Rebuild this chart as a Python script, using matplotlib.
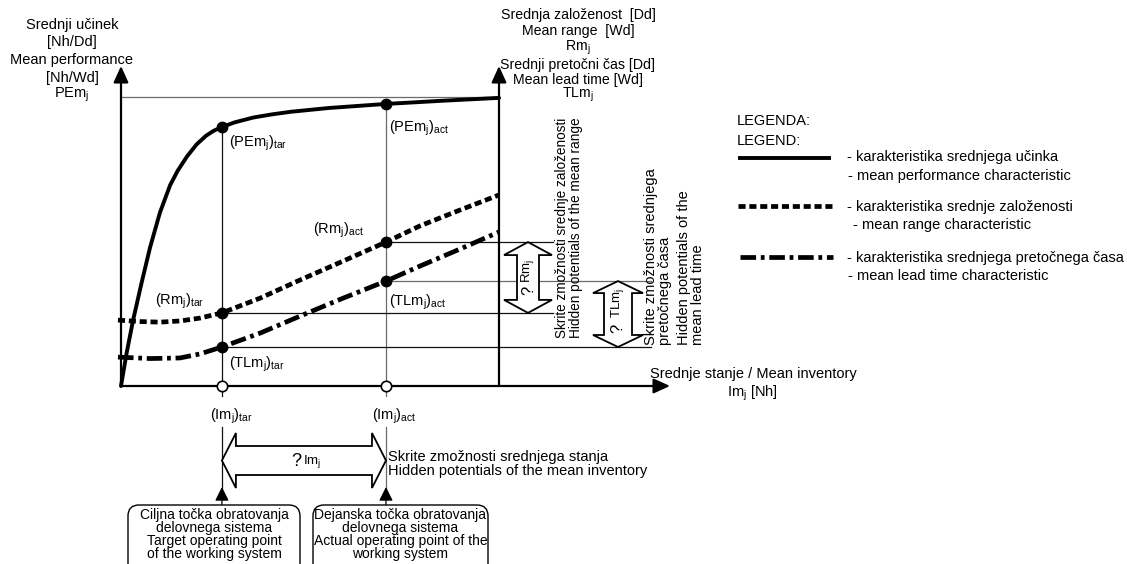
import matplotlib
matplotlib.use("Agg")
import matplotlib.pyplot as plt
from matplotlib.patches import Polygon, FancyBboxPatch

plt.rcParams['font.family'] = ['Liberation Sans', 'DejaVu Sans']
plt.rcParams['mathtext.fontset'] = 'custom'
plt.rcParams['mathtext.rm'] = 'Liberation Sans'
plt.rcParams['mathtext.it'] = 'Liberation Sans'
plt.rcParams['mathtext.bf'] = 'Liberation Sans:bold'

# characteristic curves (inventory 0..100, value 0..100)
inv_pe = [0, 1.5, 3.2, 5.5, 7.7, 10.3, 13, 15, 17.5, 20, 22.5, 24.5, 26.7, 30, 35, 40, 45,
          55, 70.1, 85, 100]
pe = [0, 11.5, 22.8, 36, 48, 60, 69.5, 74.5, 79.5, 83.6, 86.6, 88.3, 89.6, 91.2, 92.9, 94.0,
      94.9, 96.2, 97.6, 98.7, 99.7]

inv_rm = [-0.8, 5, 10.3, 15.6, 20.9, 26.7, 36.8, 47.4, 58.2, 70.1, 79.1, 89.7, 100]
rm = [22.8, 22.3, 22.1, 22.5, 23.5, 25.3, 30.4, 36.7, 42.9, 49.8, 55.4, 60.9, 66.1]

inv_tl = [-0.8, 7.7, 15.6, 20.9, 26.7, 36.8, 47.4, 58.2, 70.1, 79.1, 89.7, 100]
tl = [10.0, 9.5, 9.7, 11.1, 13.5, 18.3, 24.2, 30.1, 36.3, 41.5, 47.4, 53.3]

# operating points
im_tar, im_act = 26.7, 70.1
pe_tar, pe_act = 89.6, 97.6
rm_tar, rm_act = 25.3, 49.8
tl_tar, tl_act = 13.5, 36.3
pe_max = 100
inv_max = 100

# page layout: pixels per data unit and origin position
W, H = 1127, 564
SX, SY = 3.78, 2.89
X0, Y0 = 121, 386


def ix(p):
    return (p - X0) / SX


def vy(p):
    return (Y0 - p) / SY


fig = plt.figure(figsize=(W / 100, H / 100), dpi=100)
ax = fig.add_axes([0, 0, 1, 1])
ax.set_xlim(ix(0), ix(W))
ax.set_ylim(vy(H), vy(0))
ax.axis('off')

BLK = '#111111'
GRY = '#6a6a6a'

# axes with arrows
arr = dict(arrowstyle='-|>,head_length=0.55,head_width=0.25', mutation_scale=18,
           lw=1.6, color='k', shrinkA=0, shrinkB=0)
ax.annotate('', xy=(0, vy(66)), xytext=(0, 0), arrowprops=arr)
ax.annotate('', xy=(inv_max, vy(66)), xytext=(inv_max, 0), arrowprops=arr)
ax.annotate('', xy=(ix(670), 0), xytext=(0, 0), arrowprops=arr)

# guide lines
ax.plot([0, inv_max], [pe_max, pe_max], color=GRY, lw=0.9)
ax.plot([im_tar, im_tar], [pe_tar, vy(396)], color=BLK, lw=0.9)
ax.plot([im_act, im_act], [pe_act, vy(396)], color=GRY, lw=0.9)
ax.plot([im_act, ix(553)], [rm_act, rm_act], color=BLK, lw=0.9)
ax.plot([im_act, ix(651)], [tl_act, tl_act], color=GRY, lw=0.9)
ax.plot([im_tar, ix(553)], [rm_tar, rm_tar], color=BLK, lw=0.9)
ax.plot([im_tar, ix(651)], [tl_tar, tl_tar], color=BLK, lw=0.9)

# lines below the axis down to the boxes
small = dict(arrowstyle='-|>,head_length=0.6,head_width=0.3', mutation_scale=14,
             lw=0.9, color='k', shrinkA=0, shrinkB=0)
for x, c in [(im_tar, BLK), (im_act, GRY)]:
    ax.plot([x, x], [vy(427), vy(490)], color=c, lw=0.9)
    ax.annotate('', xy=(x, vy(487)), xytext=(x, vy(505)), arrowprops=small)

# curves
ax.plot(inv_pe, pe, color='k', lw=2.8, solid_capstyle='round', solid_joinstyle='round', zorder=4)
ax.plot(inv_rm, rm, color='k', lw=3.4, dashes=[1.5, 0.8], zorder=4)
ax.plot(inv_tl, tl, color='k', lw=3.4, dashes=[3.3, 1.0, 0.8, 1.0], zorder=4)

# operating points
ax.plot([im_tar, im_act], [pe_tar, pe_act], 'o', color='k', ms=7.5, zorder=5)
ax.plot([im_tar, im_act], [rm_tar, rm_act], 'o', color='k', ms=7.5, zorder=5)
ax.plot([im_tar, im_act], [tl_tar, tl_act], 'o', color='k', ms=7.5, zorder=5)
ax.plot([im_tar, im_act], [0, 0], 'o', mfc='white', mec='k', mew=1.2, ms=7.5, zorder=6)


# hollow double arrows
def varrow(c, lo, hi, hw, sw, hl):
    hw, sw, hl = hw / SX, sw / SX, hl / SY
    pts = [(c, hi), (c + hw, hi - hl), (c + sw, hi - hl), (c + sw, lo + hl),
           (c + hw, lo + hl), (c, lo), (c - hw, lo + hl), (c - sw, lo + hl),
           (c - sw, hi - hl), (c - hw, hi - hl)]
    ax.add_patch(Polygon(pts, closed=True, fc='white', ec='k', lw=1.3, zorder=3))


def harrow(m, lo, hi, hh, sh, hl):
    hh, sh, hl = hh / SY, sh / SY, hl / SX
    pts = [(lo, m), (lo + hl, m + hh), (lo + hl, m + sh), (hi - hl, m + sh),
           (hi - hl, m + hh), (hi, m), (hi - hl, m - hh), (hi - hl, m - sh),
           (lo + hl, m - sh), (lo + hl, m - hh)]
    ax.add_patch(Polygon(pts, closed=True, fc='white', ec='k', lw=1.3, zorder=3))


varrow(ix(528), rm_tar, rm_act, 24, 11, 13)
varrow(ix(618), tl_tar, tl_act, 25, 14, 12)
harrow(vy(460.5), im_tar, im_act, 27.5, 14.5, 14)

# overlay in pixel coordinates for the texts
ov = fig.add_axes([0, 0, 1, 1])
ov.set_xlim(0, W)
ov.set_ylim(H, 0)
ov.axis('off')
FS = 10.5

# axis titles
for s, y in [('Srednji učinek', 29), ('[Nh/Dd]', 46), ('Mean performance', 64),
             ('[Nh/Wd]', 82), ('PEm$_j$', 98)]:
    ov.text(72, y, s, ha='center', va='baseline', fontsize=FS)
for s, y in [('Srednja založenost  [Dd]', 19), ('Mean range  [Wd]', 35), ('Rm$_j$', 51),
             ('Srednji pretočni čas [Dd]', 69), ('Mean lead time [Wd]', 84), ('TLm$_j$', 98)]:
    ov.text(578, y, s, ha='center', va='baseline', fontsize=10.2)
ov.text(753, 378, 'Srednje stanje / Mean inventory', ha='center', va='baseline', fontsize=FS)
ov.text(752, 397, 'Im$_j$ [Nh]', ha='center', va='baseline', fontsize=FS)

# point labels
for s, x, y in [('(PEm$_j$)$_{tar}$', 229, 147), ('(PEm$_j$)$_{act}$', 389, 132),
                ('(Rm$_j$)$_{tar}$', 155, 305), ('(TLm$_j$)$_{tar}$', 229, 368),
                ('(Rm$_j$)$_{act}$', 313, 234), ('(TLm$_j$)$_{act}$', 389, 306),
                ('(Im$_j$)$_{tar}$', 210, 420), ('(Im$_j$)$_{act}$', 372, 420)]:
    ov.text(x, y, s, ha='left', va='baseline', fontsize=FS)

# hidden potentials, vertical texts
for s, x, b, fs in [('Skrite zmožnosti srednje založenosti', 562, 338, 9.8),
                    ('Hidden potentials of the mean range', 576, 338, 9.8),
                    ('Skrite zmožnosti srednjega', 651, 345, FS),
                    ('pretočnega časa', 665, 345, FS),
                    ('Hidden potentials of the', 684, 345, FS),
                    ('mean lead time', 698, 345, FS)]:
    ov.text(x, b, s, rotation=90, ha='center', va='bottom', fontsize=fs)

ov.text(529, 290, '?', rotation=90, ha='center', va='center', fontsize=12)
ov.text(528, 271, 'Rm$_j$', rotation=90, ha='center', va='center', fontsize=9.5)
ov.text(618, 328, '?', rotation=90, ha='center', va='center', fontsize=12)
ov.text(617, 303, 'TLm$_j$', rotation=90, ha='center', va='center', fontsize=9.5)
ov.text(296, 461, '?', ha='center', va='center', fontsize=13)
ov.text(303, 462, 'Im$_j$', ha='left', va='center', fontsize=9.5)

ov.text(388, 461, 'Skrite zmožnosti srednjega stanja', ha='left', va='baseline', fontsize=FS)
ov.text(388, 475, 'Hidden potentials of the mean inventory', ha='left', va='baseline', fontsize=FS)

# boxes with operating points
for x0, x1, lines in [(128, 300, ['Ciljna točka obratovanja', 'delovnega sistema',
                                  'Target operating point', 'of the working system']),
                      (313, 488, ['Dejanska točka obratovanja', 'delovnega sistema',
                                  'Actual operating point of the', 'working system'])]:
    ov.add_patch(FancyBboxPatch((x0, 505), x1 - x0, 70,
                                boxstyle='round,pad=0,rounding_size=11',
                                fc='white', ec='k', lw=1.0))
    for s, y in zip(lines, [519, 532, 545, 558]):
        ov.text((x0 + x1) / 2, y, s, ha='center', va='baseline', fontsize=10)

# legend
ov.text(737, 125, 'LEGENDA:', ha='left', va='baseline', fontsize=FS)
ov.text(737, 145, 'LEGEND:', ha='left', va='baseline', fontsize=FS)
ov.plot([740, 829], [158, 158], color='k', lw=2.8)
ov.plot([738, 834], [206, 206], color='k', lw=3.4, dashes=[1.5, 0.8])
ov.plot([740, 833], [257, 257], color='k', lw=3.4, dashes=[3.3, 1.0, 0.8, 1.0])
for s, x, y in [('- karakteristika srednjega učinka', 847, 161),
                ('- mean performance characteristic', 848, 180),
                ('- karakteristika srednje založenosti', 847, 211),
                ('- mean range characteristic', 853, 229),
                ('- karakteristika srednjega pretočnega časa', 847, 262),
                ('- mean lead time characteristic', 848, 280)]:
    ov.text(x, y, s, ha='left', va='baseline', fontsize=FS)

fig.savefig('out.png', dpi=100, facecolor='white')
